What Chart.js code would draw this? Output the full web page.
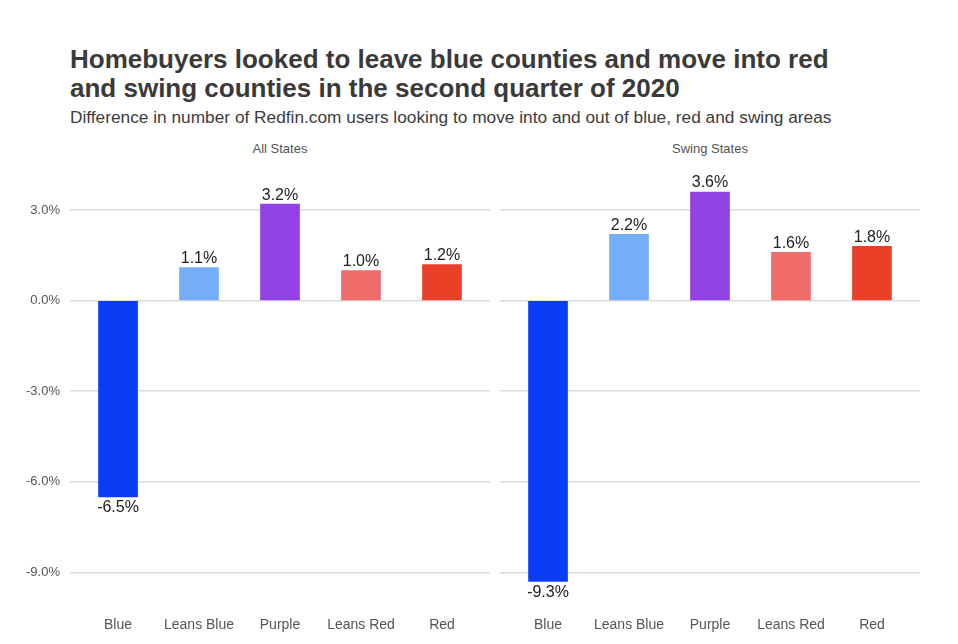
<!DOCTYPE html>
<html>
<head>
<meta charset="utf-8">
<script src="https://cdn.jsdelivr.net/npm/chart.js@4/dist/chart.umd.min.js"></script>
<style>
    html, body { margin: 0; padding: 0; background: #fff; }
    body { width: 958px; height: 644px; position: relative; overflow: hidden; font-family: "Liberation Sans", Arial, sans-serif; }
    .title { position: absolute; left: 70px; top: 45px; font-size: 26px; font-weight: bold; color: #3a3a3a; line-height: 29px; }
    .subtitle { position: absolute; left: 70px; top: 107px; font-size: 17.3px; color: #3c3c3c; }
    .facet { position: absolute; top: 141px; font-size: 13px; color: #555; text-align: center; width: 200px; }
    .panel { position: absolute; top: 161px; height: 483px; }
</style>
</head>
<body>
<div class="title">Homebuyers looked to leave blue counties and move into red<br>and swing counties in the second quarter of 2020</div>
<div class="subtitle">Difference in number of Redfin.com users looking to move into and out of blue, red and swing areas</div>
<div class="facet" style="left:180px">All States</div>
<div class="facet" style="left:610px">Swing States</div>
<div class="panel" style="left:0; width:490px"><canvas id="allCanvas"></canvas></div>
<div class="panel" style="left:490px; width:430px"><canvas id="swingCanvas"></canvas></div>
<script>
// Leaning categories, left to right
const categories = ['Blue', 'Leans Blue', 'Purple', 'Leans Red', 'Red'];
const barColors = ['#0b3cf6', '#74adf8', '#9141e6', '#ee6d6b', '#ea4028'];

// Net difference (%) per category
const allStates = [-6.5, 1.1, 3.2, 1.0, 1.2];
const swingStates = [-9.3, 2.2, 3.6, 1.6, 1.8];

const yTicks = [-9, -6, -3, 0, 3];

// writes the value labels above (or below) each bar
const valueLabels = {
    id: 'valueLabels',
    afterDatasetsDraw(chart) {
        const ctx = chart.ctx;
        const meta = chart.getDatasetMeta(0);
        const vals = chart.data.datasets[0].data;
        ctx.save();
        ctx.font = '16px "Liberation Sans", Arial, sans-serif';
        ctx.fillStyle = '#222';
        ctx.textAlign = 'center';
        meta.data.forEach((bar, i) => {
            const v = vals[i].y;
            const txt = v.toFixed(1) + '%';
            if (v >= 0) {
                ctx.textBaseline = 'bottom';
                ctx.fillText(txt, bar.x, bar.y - 1);
            } else {
                ctx.textBaseline = 'top';
                ctx.fillText(txt, bar.x, bar.y + 3);
            }
        });
        ctx.restore();
    },
};

// no edge padding so the plot area is exactly where we put it
function noPad(s) {
    s.paddingTop = 0; s.paddingBottom = 0;
    s.paddingLeft = 0; s.paddingRight = 0;
}

function makePanel(canvasId, values, showY) {
    const canvas = document.getElementById(canvasId);
    return new Chart(canvas, {
        type: 'bar',
        data: {
            datasets: [{
                data: values.map((v, i) => ({ x: i, y: v })),
                backgroundColor: barColors,
                barThickness: 39,
            }],
        },
        options: {
            responsive: true, maintainAspectRatio: false, animation: false,
            layout: { padding: 0 },
            plugins: { legend: { display: false }, tooltip: { enabled: false } },
            scales: {
                x: {
                    type: 'linear', min: -0.593, max: 4.593, offset: false,
                    afterBuildTicks: s => { s.ticks = categories.map((c, i) => ({ value: i })); },
                    afterFit: s => { s.height = 40; noPad(s); },
                    grid: { display: false },
                    border: { display: false },
                    ticks: {
                        callback: v => categories[v],
                        color: '#555', font: { size: 14, family: '"Liberation Sans", Arial, sans-serif' },
                        padding: 5, maxRotation: 0, autoSkip: false,
                    },
                },
                y: {
                    min: -10.05, max: 4.628,
                    afterBuildTicks: s => { s.ticks = yTicks.map(v => ({ value: v })); },
                    afterFit: s => { s.width = showY ? 70 : 10; noPad(s); },
                    grid: { color: '#dcdcdc', lineWidth: 1.5, drawTicks: false },
                    border: { display: false },
                    ticks: {
                        display: showY,
                        callback: v => v.toFixed(1) + '%',
                        color: '#555', font: { size: 13, family: '"Liberation Sans", Arial, sans-serif' },
                        padding: 10,
                    },
                },
            },
        },
        plugins: [valueLabels],
    });
}

makePanel('allCanvas', allStates, true);
makePanel('swingCanvas', swingStates, false);
</script>
</body>
</html>
